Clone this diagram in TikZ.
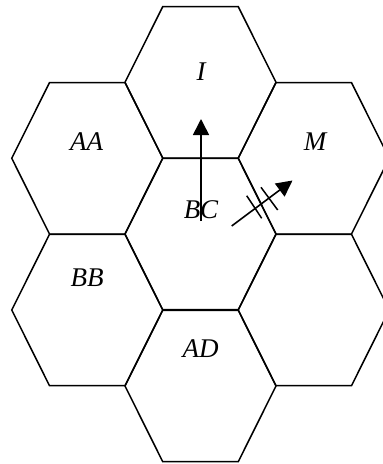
\documentclass[tikz,border=0pt]{standalone}
\usepackage{fontspec}
\setmainfont{Liberation Serif}
\usetikzlibrary{arrows.meta}
\begin{document}
\begin{tikzpicture}[x=1pt,y=-1pt,
  hexline/.style={line width=1.5pt, line join=miter},
  lbl/.style={font=\fontsize{27}{27}\selectfont\itshape, inner sep=0pt},
  arr/.style={line width=1.6pt, -{Triangle[width=16pt,length=16pt]}},
  tickline/.style={line width=1.5pt}]
\useasboundingbox (0,0) rectangle (383,464);
\clip (0,0) rectangle (383,464);
\foreach \cx/\cy in {200.5/82.3, 87.25/158.3, 313.75/158.3, 200.5/234, 87.25/310, 313.75/310, 200.5/386}{
  \draw[hexline] (\cx-75.5,\cy) -- (\cx-37.75,\cy-75.7) -- (\cx+37.75,\cy-75.7) -- (\cx+75.5,\cy) -- (\cx+37.75,\cy+75.7) -- (\cx-37.75,\cy+75.7) -- cycle;
}
\node[lbl] (I) at (201,72) {I};
\node[lbl] (AA) at (86.5,142) {AA};
\node[lbl] (M) at (315,142) {M};
\node[lbl] (BC) at (201,210) {BC};
\node[lbl] (BB) at (87,278) {BB};
\node[lbl] (AD) at (200.5,349) {AD};
\coordinate (vs) at (201,221);
\coordinate (ve) at (201,119);
\coordinate (ds) at (231.7,226);
\coordinate (de) at (292.5,180.5);
\coordinate (t1a) at (246.7,195.7);
\coordinate (t1b) at (261.7,218.3);
\coordinate (t2a) at (261,187.3);
\coordinate (t2b) at (277.7,210);
\draw[arr] (vs) -- (ve);
\draw[arr] (ds) -- (de);
\draw[tickline] (t1a) -- (t1b);
\draw[tickline] (t2a) -- (t2b);
\end{tikzpicture}
\end{document}
